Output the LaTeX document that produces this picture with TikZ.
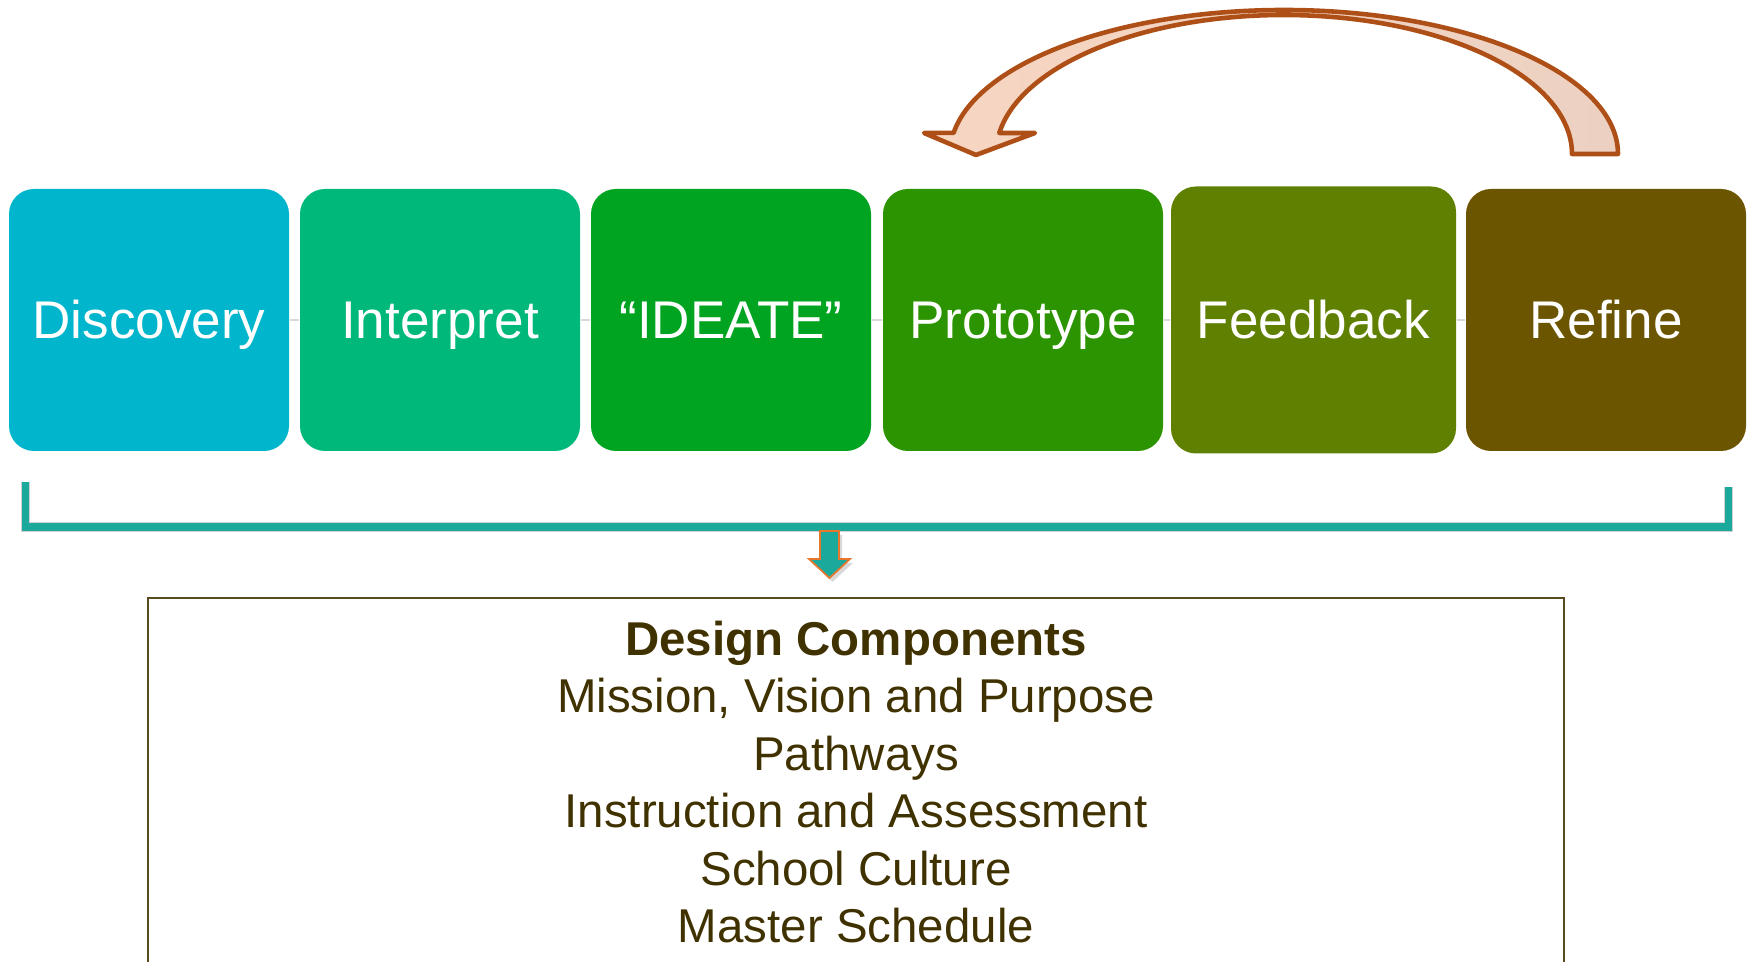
\documentclass[tikz,border=0pt]{standalone}
\usepackage{fontspec}
\setmainfont{Liberation Sans}
\usepackage{tikz}
\usetikzlibrary{positioning}
\usepackage{xcolor}
\definecolor{cDisc}{HTML}{00B5CC}
\definecolor{cInter}{HTML}{00B87A}
\definecolor{cIdea}{HTML}{00A420}
\definecolor{cProto}{HTML}{2C9400}
\definecolor{cFeed}{HTML}{5F8000}
\definecolor{cRefine}{HTML}{6B5500}
\definecolor{cTeal}{HTML}{1BA99C}
\definecolor{cRust}{HTML}{AE4F17}
\definecolor{cPeachL}{HTML}{F7D6C2}
\definecolor{cPeachR}{HTML}{ECD1C2}
\definecolor{cOrange}{HTML}{E8772E}
\definecolor{cFrame}{HTML}{5B4C1F}
\definecolor{cText}{HTML}{403100}

\tikzset{
  stage/.style={rounded corners=0.25cm, inner sep=0pt, text=white, text height=10.8pt, text depth=0pt},
  joinline/.style={draw=gray!30, line width=0.3pt},
  bracket/.style={draw=cTeal, line width=2.2pt},
  bracketshadow/.style={draw=black!18, line width=2.8pt},
  loopback/.style={draw=cRust, line width=1.3pt, line join=round, left color=cPeachL, right color=cPeachR},
  framebox/.style={draw=cFrame, line width=0.7pt},
  comps/.style={font=\fontsize{13.5}{16.36}\selectfont, text=cText, align=center, inner sep=0pt}
}

\begin{document}
\begin{tikzpicture}[every node/.style={font=\fontsize{15.1}{18}\selectfont}]
\useasboundingbox (0,0) rectangle (17.54,9.62);

% Stages
\foreach \n/\cx/\w/\h/\col/\txt in {b1/1.49/2.80/2.62/cDisc/Discovery, b2/4.40/2.80/2.62/cInter/Interpret, b3/7.31/2.80/2.62/cIdea/“IDEATE”, b4/10.23/2.80/2.62/cProto/Prototype, b5/13.135/2.85/2.67/cFeed/Feedback, b6/16.06/2.80/2.62/cRefine/Refine} {
    \node[stage, fill=\col, minimum width=\w cm, minimum height=\h cm] (\n) at (\cx,6.42) {\txt};
}
\foreach \a/\b in {b1/b2, b2/b3, b3/b4, b4/b5, b5/b6} {
    \draw[joinline] (\a) -- (\b);
}

% Loop back from Refine to Prototype
\draw[loopback] (16.18,8.08) arc[start angle=0, end angle=171.6, x radius=3.34, y radius=1.44]
    -- (9.24,8.29) -- (9.76,8.07) -- (10.35,8.29)
    -- (9.993,8.29) arc[start angle=171.3, end angle=0, x radius=2.88, y radius=1.39] -- cycle;

% Bracket
\coordinate (brL) at (0.255,4.80);
\coordinate (brR) at (17.285,4.75);
\coordinate (brBL) at (0.255,4.35);
\coordinate (brBR) at (17.285,4.35);
\draw[bracketshadow, shift={(0.035,-0.045)}] (brL) -- (brBL) -- (brBR) -- (brR);
\draw[bracket] (brL) -- (brBL) -- (brBR) -- (brR);

% Down arrow
\fill[black!15, shift={(0.03,-0.04)}] (8.20,4.31) -- (8.39,4.31) -- (8.39,4.03) -- (8.50,4.03) -- (8.295,3.84) -- (8.09,4.03) -- (8.20,4.03) -- cycle;
\draw[cOrange, fill=cTeal, line width=0.5pt] (8.20,4.31) -- (8.39,4.31) -- (8.39,4.03) -- (8.50,4.03) -- (8.295,3.84) -- (8.09,4.03) -- (8.20,4.03) -- cycle;

% Components
\draw[framebox] (1.48,-0.2) |- (15.64,3.64) -- (15.64,-0.2);
\node[comps, anchor=north] (comps) at (8.56,3.42) {\textbf{Design Components}\\Mission, Vision and Purpose\\Pathways\\Instruction and Assessment\\School Culture\\Master Schedule};
\end{tikzpicture}
\end{document}
